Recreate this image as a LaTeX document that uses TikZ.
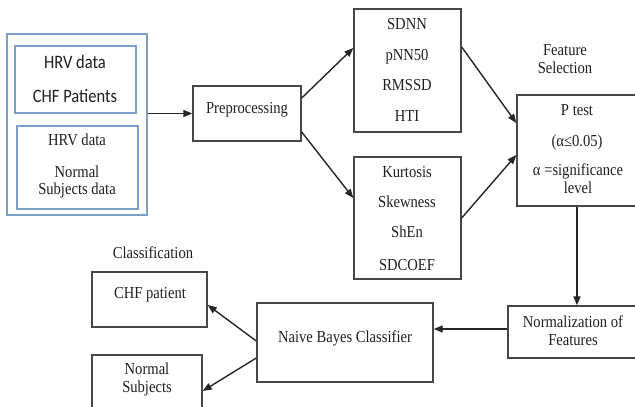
\documentclass[tikz,border=0pt]{standalone}
\usepackage{fontspec}
\setmainfont{Liberation Serif}
\newfontfamily\calib{Carlito}
\usetikzlibrary{arrows.meta,calc}
\definecolor{boxblue}{RGB}{125,160,200}
\newcommand{\vst}[1]{\scalebox{1}[1.15]{#1}}
\begin{document}
\begin{tikzpicture}[x=1pt,y=-1pt,
  box/.style={draw=black!72, line width=1.4pt, inner sep=0pt},
  bluebox/.style={draw=boxblue, line width=1.4pt, inner sep=0pt},
  txt/.style={font=\fontsize{14.6}{17}\selectfont, inner sep=0pt, anchor=base, text=black!88},
  ctxt/.style={font=\calib\fontsize{16.5}{19}\selectfont, inner sep=0pt, anchor=base, text=black!88},
  arr/.style={draw=black!85, line width=1.4pt, -{Triangle[length=9pt,width=7pt]}}]
\useasboundingbox (0,0) rectangle (635,407);
\clip (0,0) rectangle (635,407);

% boxes
\node[bluebox, minimum width=140pt, minimum height=181pt] (outer) at (77,124.5) {};
\node[bluebox, minimum width=121pt, minimum height=67pt] (in1) at (75.5,79.5) {};
\node[bluebox, minimum width=121pt, minimum height=83pt] (in2) at (77.5,167.5) {};
\node[box, minimum width=108pt, minimum height=55pt] (prep) at (247,113.5) {};
\node[box, minimum width=107pt, minimum height=123pt] (feat1) at (407.5,70.5) {};
\node[box, minimum width=107pt, minimum height=122pt] (feat2) at (407.5,218) {};
\node[box, minimum width=123pt, minimum height=111pt] (ptest) at (578.5,150.5) {};
\node[box, minimum width=132pt, minimum height=52pt] (norm) at (574,332) {};
\node[box, minimum width=176pt, minimum height=79pt] (nb) at (345,342.5) {};
\node[box, minimum width=115pt, minimum height=55pt] (chf) at (149.5,299.5) {};
\node[box, minimum width=110pt, minimum height=60pt] (normal) at (147,385) {};

% texts
\node[ctxt] (t1) at (75,68.5) {\vst{HRV data}};
\node[ctxt] (t2) at (75,102.5) {\vst{CHF Patients}};
\node[txt] (t3) at (77,145.5) {\vst{HRV data}};
\node[txt] (t4) at (77,177.5) {\vst{Normal}};
\node[txt] (t5) at (77,194.5) {\vst{Subjects data}};
\node[txt] (t6) at (247,113.5) {\vst{Preprocessing}};
\node[txt] (t7) at (407,29.5) {\vst{SDNN}};
\node[txt] (t8) at (407,60.5) {\vst{pNN50}};
\node[txt] (t9) at (407,90.5) {\vst{RMSSD}};
\node[txt] (t10) at (407,121.5) {\vst{HTI}};
\node[txt] (t11) at (407,177.5) {\vst{Kurtosis}};
\node[txt] (t12) at (407,207.5) {\vst{Skewness}};
\node[txt] (t13) at (407,237.5) {\vst{ShEn}};
\node[txt] (t14) at (407,270.5) {\vst{SDCOEF}};
\node[txt] (t15) at (565,55.5) {\vst{Feature}};
\node[txt] (t16) at (565,73.5) {\vst{Selection}};
\node[txt] (t17) at (577,115.5) {\vst{P test}};
\node[txt] (t18) at (577,146.5) {\vst{(α≤0.05)}};
\node[txt] (t19) at (578,175.5) {\vst{α =significance}};
\node[txt] (t20) at (578,193.5) {\vst{level}};
\node[txt] (t21) at (573,327.5) {\vst{Normalization of}};
\node[txt] (t22) at (573,345.5) {\vst{Features}};
\node[txt] (t23) at (345,342.5) {\vst{Naive Bayes Classifier}};
\node[txt] (t24) at (153,258.5) {\vst{Classification}};
\node[txt] (t25) at (150,298.5) {\vst{CHF patient}};
\node[txt] (t26) at (147,374.5) {\vst{Normal}};
\node[txt] (t27) at (147,392.5) {\vst{Subjects}};

% connectors
\draw[arr] (prep.west -| outer.east) -- (prep.west);
\draw[arr] ([yshift=15.5pt]prep.east) -- ([yshift=22.5pt]feat1.west);
\draw[arr] ([yshift=-18.5pt]prep.east) -- ([yshift=20pt]feat2.west);
\draw[arr] ([yshift=23.5pt]feat1.east) -- ([yshift=27.5pt]ptest.west);
\draw[arr] (feat2.east) -- ([yshift=-4.5pt]ptest.west);
\draw[arr] ([xshift=-1.5pt]ptest.south) -- ([xshift=-1.5pt]ptest.south |- norm.north);
\draw[arr] ([yshift=3pt]norm.west) -- ([yshift=3pt]norm.west -| nb.east);
\draw[arr] ([yshift=1.5pt]nb.west) -- ([yshift=-5.5pt]chf.east);
\draw[arr] ([yshift=-15.5pt]nb.west) -- ([yshift=-6pt]normal.east);
\end{tikzpicture}
\end{document}
